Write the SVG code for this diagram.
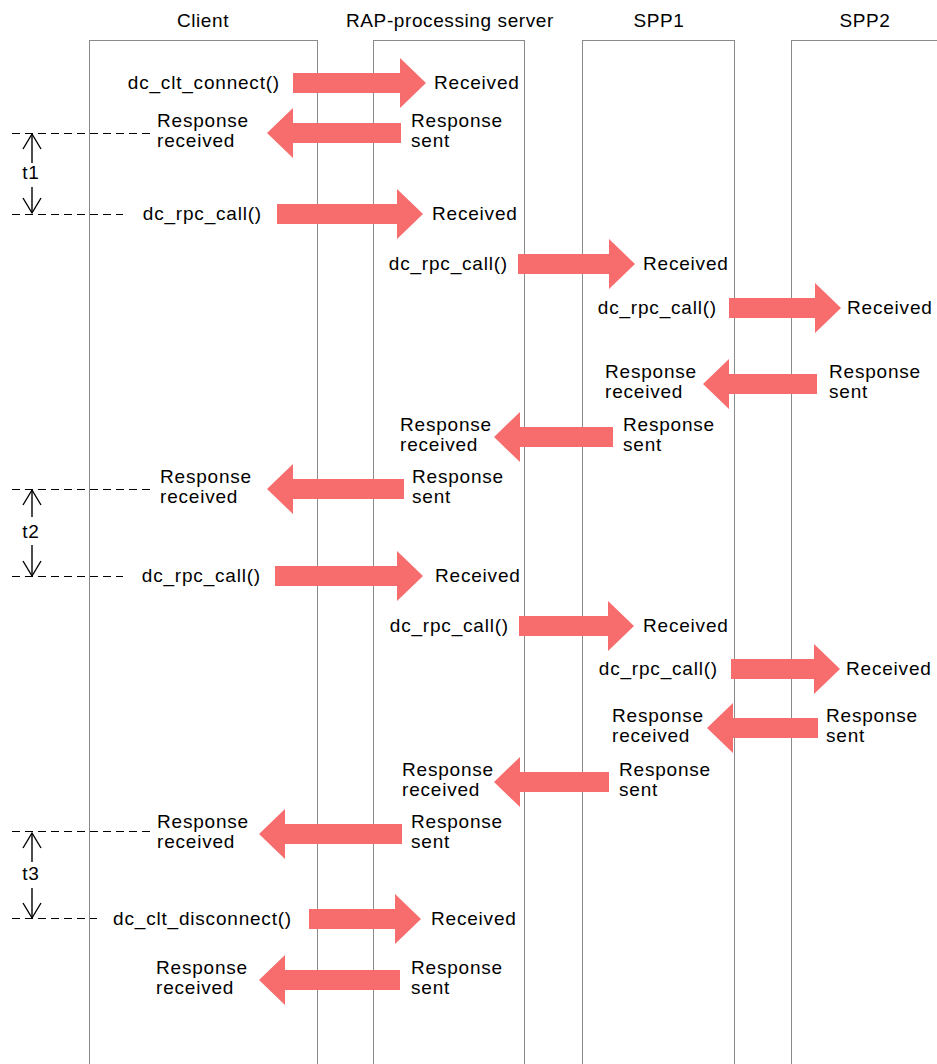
<svg xmlns="http://www.w3.org/2000/svg" width="937" height="1064" viewBox="0 0 937 1064">
  <style>
    .lane { fill: #ffffff; stroke: #8a8a8a; stroke-width: 1; }
    .hdr { font-family: "Liberation Sans", Arial, sans-serif; font-size: 19px; letter-spacing: 0.6px; fill: #000; text-anchor: middle; }
    .lbl { font-family: "Liberation Sans", Arial, sans-serif; font-size: 19px; letter-spacing: 0.8px; fill: #000; }
    .end { text-anchor: end; }
    .mid { text-anchor: middle; }
    .msg { fill: #F76C6C; stroke: none; }
    .dash { stroke: #000; stroke-width: 1; stroke-dasharray: 8 5; fill: none; }
    .dim { stroke: #000; stroke-width: 1.4; fill: none; }
  </style>
  <rect width="937" height="1064" fill="#ffffff"/>

  <!-- lifelines -->
  <g id="client">
    <rect class="lane" x="89.5" y="40.5" width="228" height="1030"/>
    <text class="hdr" x="203" y="27">Client</text>
  </g>
  <g id="rap-server">
    <rect class="lane" x="373.5" y="40.5" width="151" height="1030"/>
    <text class="hdr" x="450" y="27">RAP-processing server</text>
  </g>
  <g id="spp1">
    <rect class="lane" x="582.5" y="40.5" width="152" height="1030"/>
    <text class="hdr" x="659" y="27">SPP1</text>
  </g>
  <g id="spp2">
    <rect class="lane" x="791.5" y="40.5" width="200" height="1030"/>
    <text class="hdr" x="865" y="27">SPP2</text>
  </g>

  <!-- messages -->
  <g id="connectors">
    <path class="msg" d="M293,73 H400 V58 L426,83 L400,108 V93 H293 Z"/>
    <path class="msg" d="M401,123 H293 V108 L267,133 L293,158 V143 H401 Z"/>
    <path class="msg" d="M277,204 H397 V189 L423,214 L397,239 V224 H277 Z"/>
    <path class="msg" d="M518,254 H609 V239 L635,264 L609,289 V274 H518 Z"/>
    <path class="msg" d="M729,298 H815 V283 L841,308 L815,333 V318 H729 Z"/>
    <path class="msg" d="M817,374 H729 V359 L703,384 L729,409 V394 H817 Z"/>
    <path class="msg" d="M613,427 H520 V412 L494,437 L520,462 V447 H613 Z"/>
    <path class="msg" d="M404,479 H293 V464 L267,489 L293,514 V499 H404 Z"/>
    <path class="msg" d="M275,566 H397 V551 L423,576 L397,601 V586 H275 Z"/>
    <path class="msg" d="M519,616 H608 V601 L634,626 L608,651 V636 H519 Z"/>
    <path class="msg" d="M731,659 H814 V644 L840,669 L814,694 V679 H731 Z"/>
    <path class="msg" d="M818,718 H733 V703 L707,728 L733,753 V738 H818 Z"/>
    <path class="msg" d="M609,772 H520 V757 L494,782 L520,807 V792 H609 Z"/>
    <path class="msg" d="M402,824 H285 V809 L259,834 L285,859 V844 H402 Z"/>
    <path class="msg" d="M309,909 H395 V894 L421,919 L395,944 V929 H309 Z"/>
    <path class="msg" d="M400,970 H285 V955 L259,980 L285,1005 V990 H400 Z"/>
  </g>

  <!-- message labels -->
  <g id="labels">
    <text class="lbl end" x="280" y="89">dc_clt_connect()</text>
    <text class="lbl" x="434" y="89">Received</text>

    <text class="lbl" x="157" y="127">Response</text>
    <text class="lbl" x="157" y="147">received</text>
    <text class="lbl" x="411" y="127">Response</text>
    <text class="lbl" x="411" y="147">sent</text>

    <text class="lbl end" x="262" y="220">dc_rpc_call()</text>
    <text class="lbl" x="432" y="220">Received</text>

    <text class="lbl end" x="508" y="270">dc_rpc_call()</text>
    <text class="lbl" x="643" y="270">Received</text>

    <text class="lbl end" x="717" y="314">dc_rpc_call()</text>
    <text class="lbl" x="847" y="314">Received</text>

    <text class="lbl" x="605" y="378">Response</text>
    <text class="lbl" x="605" y="398">received</text>
    <text class="lbl" x="829" y="378">Response</text>
    <text class="lbl" x="829" y="398">sent</text>

    <text class="lbl" x="400" y="431">Response</text>
    <text class="lbl" x="400" y="451">received</text>
    <text class="lbl" x="623" y="431">Response</text>
    <text class="lbl" x="623" y="451">sent</text>

    <text class="lbl" x="160" y="483">Response</text>
    <text class="lbl" x="160" y="503">received</text>
    <text class="lbl" x="412" y="483">Response</text>
    <text class="lbl" x="412" y="503">sent</text>

    <text class="lbl end" x="261" y="582">dc_rpc_call()</text>
    <text class="lbl" x="435" y="582">Received</text>

    <text class="lbl end" x="509" y="632">dc_rpc_call()</text>
    <text class="lbl" x="643" y="632">Received</text>

    <text class="lbl end" x="718" y="675">dc_rpc_call()</text>
    <text class="lbl" x="846" y="675">Received</text>

    <text class="lbl" x="612" y="722">Response</text>
    <text class="lbl" x="612" y="742">received</text>
    <text class="lbl" x="826" y="722">Response</text>
    <text class="lbl" x="826" y="742">sent</text>

    <text class="lbl" x="402" y="776">Response</text>
    <text class="lbl" x="402" y="796">received</text>
    <text class="lbl" x="619" y="776">Response</text>
    <text class="lbl" x="619" y="796">sent</text>

    <text class="lbl" x="157" y="828">Response</text>
    <text class="lbl" x="157" y="848">received</text>
    <text class="lbl" x="411" y="828">Response</text>
    <text class="lbl" x="411" y="848">sent</text>

    <text class="lbl end" x="292" y="925">dc_clt_disconnect()</text>
    <text class="lbl" x="431" y="925">Received</text>

    <text class="lbl" x="156" y="974">Response</text>
    <text class="lbl" x="156" y="994">received</text>
    <text class="lbl" x="411" y="974">Response</text>
    <text class="lbl" x="411" y="994">sent</text>
  </g>

  <!-- client think-time intervals -->
  <g id="t1">
    <line class="dash" x1="12" y1="133.5" x2="155" y2="133.5"/>
    <line class="dash" x1="12" y1="214.5" x2="123" y2="214.5"/>
    <line class="dim" x1="32" y1="134" x2="32" y2="163"/>
    <line class="dim" x1="32" y1="187" x2="32" y2="213"/>
    <path class="dim" d="M23,149 L32,134 L41,149"/>
    <path class="dim" d="M23,198 L32,213 L41,198"/>
    <text class="lbl mid" x="31" y="179">t1</text>
  </g>
  <g id="t2">
    <line class="dash" x1="12" y1="489.5" x2="154" y2="489.5"/>
    <line class="dash" x1="12" y1="576.5" x2="123" y2="576.5"/>
    <line class="dim" x1="32" y1="490" x2="32" y2="517"/>
    <line class="dim" x1="32" y1="545" x2="32" y2="576"/>
    <path class="dim" d="M23,505 L32,490 L41,505"/>
    <path class="dim" d="M23,561 L32,576 L41,561"/>
    <text class="lbl mid" x="31" y="538">t2</text>
  </g>
  <g id="t3">
    <line class="dash" x1="12" y1="831.5" x2="155" y2="831.5"/>
    <line class="dash" x1="12" y1="918.5" x2="97" y2="918.5"/>
    <line class="dim" x1="32" y1="833" x2="32" y2="862"/>
    <line class="dim" x1="32" y1="888" x2="32" y2="918"/>
    <path class="dim" d="M23,848 L32,833 L41,848"/>
    <path class="dim" d="M23,903 L32,918 L41,903"/>
    <text class="lbl mid" x="31" y="880">t3</text>
  </g>
</svg>
